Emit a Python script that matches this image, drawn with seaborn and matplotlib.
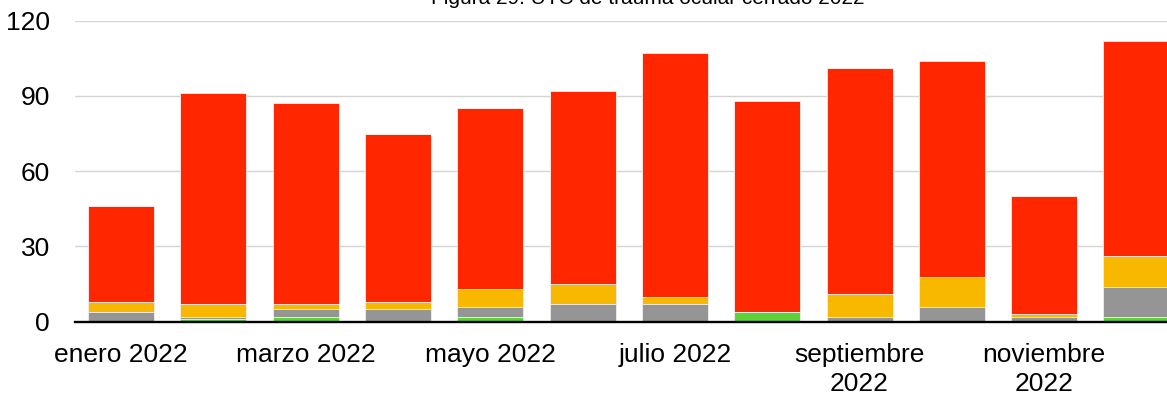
import matplotlib
matplotlib.use("Agg")
import matplotlib.pyplot as plt
import seaborn as sns
import numpy as np
import pandas as pd

# Monthly counts, 2022
meses = ["enero 2022", "febrero 2022", "marzo 2022", "abril 2022",
         "mayo 2022", "junio 2022", "julio 2022", "agosto 2022",
         "septiembre 2022", "octubre 2022", "noviembre 2022", "diciembre 2022"]
verde = [0, 1, 2, 0, 2, 0, 0, 4, 0, 0, 0, 2]
gris = [4, 1, 3, 5, 4, 7, 7, 0, 2, 6, 2, 12]
amarillo = [4, 5, 2, 3, 7, 8, 3, 0, 9, 12, 1, 12]
rojo = [38, 84, 80, 67, 72, 77, 97, 84, 90, 86, 47, 86]

etiquetas_x = ["enero 2022", "marzo 2022", "mayo 2022", "julio 2022",
               "septiembre\n2022", "noviembre\n2022"]
ticks_y = [0, 30, 60, 90, 120]
titulo = "Figura 29. UTC de trauma ocular cerrado 2022"

sns.set_theme(style="white")
plt.rcParams["font.family"] = ["Liberation Sans", "DejaVu Sans"]

df = pd.DataFrame({"mes": meses, "verde": verde, "gris": gris,
                   "amarillo": amarillo, "rojo": rojo})
df["c_verde"] = df["verde"]
df["c_gris"] = df["c_verde"] + df["gris"]
df["c_amarillo"] = df["c_gris"] + df["amarillo"]
df["c_rojo"] = df["c_amarillo"] + df["rojo"]

fig = plt.figure(figsize=(11.67, 3.97), dpi=100)
ax = fig.add_axes([75 / 1167, 75.3 / 397, 1107.6 / 1167, 301 / 397])

# Stacked bars: draw cumulative totals from the top layer down
capas = [("c_rojo", "#FF2600"), ("c_amarillo", "#F8B800"),
         ("c_gris", "#959595"), ("c_verde", "#5FD335")]
for col, color in capas:
    sns.barplot(data=df, x="mes", y=col, color=color, saturation=1,
                width=0.715, edgecolor="#f2f2f2", linewidth=0.6, ax=ax)

ax.set_xlim(-0.5, len(meses) - 0.5)
ax.set_ylim(0, 120)
ax.set_yticks(ticks_y)
ax.set_yticklabels([str(t) for t in ticks_y])
ax.set_xticks(range(0, len(meses), 2))
ax.set_xticklabels(etiquetas_x, linespacing=1.25)
ax.set_xlabel("")
ax.set_ylabel("")

ax.yaxis.grid(True, color="#d4d4d4", linewidth=1.0)
ax.set_axisbelow(True)
for s in ["top", "right", "left"]:
    ax.spines[s].set_visible(False)
ax.spines["bottom"].set_color("black")
ax.spines["bottom"].set_linewidth(1.7)
ax.spines["bottom"].set_zorder(5)

ax.tick_params(axis="y", length=0, pad=18, labelsize=19, labelcolor="black")
ax.tick_params(axis="x", length=0, pad=15.5, labelsize=19, labelcolor="black")

fig.text(648 / 1167, 1 - 3.5 / 397, titulo, ha="center", va="baseline",
         fontsize=15, color="black")

fig.savefig("out.png", dpi=100)
